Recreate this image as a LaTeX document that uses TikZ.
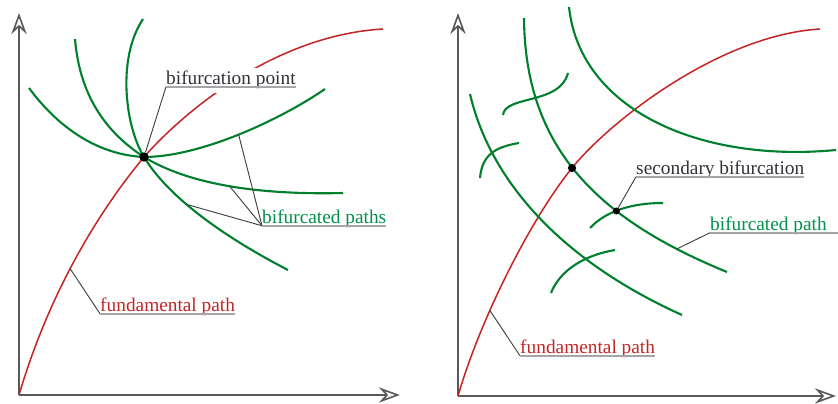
\documentclass[tikz,border=0pt]{standalone}
\usepackage{fontspec}
\setmainfont{Liberation Serif}
\usetikzlibrary{arrows.meta}
\definecolor{fundred}{RGB}{196,38,38}
\definecolor{bifgreen}{RGB}{0,128,45}
\definecolor{labgreen}{RGB}{0,145,75}
\definecolor{labgray}{RGB}{50,50,60}

\begin{document}
\begin{tikzpicture}[x=0.03cm,y=-0.03cm,
  axis/.style={draw=gray!70!black,line width=1.4pt,-{Stealth[open,length=18pt,width=13pt,inset=6pt]}},
  fund/.style={draw=fundred,line width=1.3pt},
  bif/.style={draw=bifgreen,line width=1.8pt},
  lbl/.style={anchor=base west,inner xsep=0pt,inner ysep=3pt,fill=white,font=\fontsize{16.5}{19}\selectfont},
  uline/.style={draw=gray!70,line width=1.3pt},
  lead/.style={draw=gray!50!black,line width=0.8pt},
  dot/.style={circle,fill=black,inner sep=0pt,minimum size=7pt}]

\useasboundingbox (0,0) rectangle (838,404);

% left plot: one bifurcation point
\coordinate (o1) at (19,395);
\coordinate (xt1) at (400,395);
\coordinate (yt1) at (19,13);
\coordinate (bpt) at (144,157);
\draw[axis] (o1) -- (xt1);
\draw[axis] (o1) -- (yt1);

\draw[fund] (o1) .. controls (50,290) and (100,210) .. (bpt) coordinate[pos=.45] (pf)
   .. controls (190,105) and (280,35) .. (383,29);
\draw[bif] (29,88) .. controls (60,130) and (100,155) .. (bpt)
   .. controls (200,157) and (280,120) .. (325,89) coordinate[pos=.5] (pa);
\draw[bif] (75,39) .. controls (80,100) and (110,135) .. (bpt)
   .. controls (190,185) and (260,195) .. (343,193) coordinate[pos=.5] (pb);
\draw[bif] (143,19) .. controls (116,60) and (126,128) .. (bpt)
   .. controls (170,200) and (230,240) .. (288,270) coordinate[pos=.38] (pc);

\node[lbl,text=labgray]  (bpl) at (166,85)  {bifurcation point};
\node[lbl,text=labgreen] (bfl) at (262,224) {bifurcated paths};
\node[lbl,text=fundred]  (fpl) at (100,312) {fundamental path};
\node[dot,minimum size=8pt] (bp) at (bpt) {};

\draw[lead] ([yshift=-1.5pt]bpl.base west) -- (bp);
\draw[lead] ([yshift=-1.5pt]bfl.base west) -- (pa);
\draw[lead] ([yshift=-1.5pt]bfl.base west) -- (pb);
\draw[lead] ([yshift=-1.5pt]bfl.base west) -- (pc);
\draw[lead] ([yshift=-1.5pt]fpl.base west) -- (pf);

% right plot: secondary bifurcation
\coordinate (o2) at (458,396);
\coordinate (xt2) at (836,396);
\coordinate (yt2) at (458,13);
\coordinate (d1pt) at (572,168);
\draw[axis] (o2) -- (xt2);
\draw[axis] (o2) -- (yt2);

\draw[fund] (o2) .. controls (480,320) and (530,220) .. (d1pt) coordinate[pos=.35] (qf)
   .. controls (610,121) and (720,35) .. (820,29);
\draw[bif] (569,7) .. controls (580,110) and (700,163) .. (836,150);
\draw[bif] (524,18) .. controls (525,150) and (600,220) .. (727,272)
   coordinate[pos=.66] (d2pt) coordinate[pos=.86] (qb);
\draw[bif] (470,94) .. controls (490,180) and (560,260) .. (682,315);
\draw[bif] (503,115) .. controls (505,95) and (560,105) .. (568,73);
\draw[bif] (480,178) .. controls (482,155) and (495,147) .. (519,143);
\draw[bif] (590,228) .. controls (605,212) and (630,203) .. (663,203);
\draw[bif] (551,293) .. controls (560,270) and (585,255) .. (615,250);

\node[lbl,text=labgray]  (sbl) at (636,175) {secondary bifurcation};
\node[lbl,text=labgreen] (bfr) at (710,231) {bifurcated path};
\node[lbl,text=fundred]  (fpr) at (520,354) {fundamental path};
\node[dot,minimum size=7pt] (d1) at (d1pt) {};
\node[dot,minimum size=6pt] (d2) at (d2pt) {};

\draw[lead] ([yshift=-1.5pt]sbl.base west) -- (d2);
\draw[lead] ([yshift=-1.5pt]bfr.base west) -- (qb);
\draw[lead] ([yshift=-1.5pt]fpr.base west) -- (qf);

% underlines
\foreach \l in {bpl,bfl,fpl,sbl,fpr}
  \draw[uline] ([yshift=-1.5pt]\l.base west) -- ([yshift=-1.5pt]\l.base east);
\draw[uline] ([yshift=-1.5pt]bfr.base west) -- ([xshift=10pt,yshift=-1.5pt]bfr.base east);
\end{tikzpicture}
\end{document}
